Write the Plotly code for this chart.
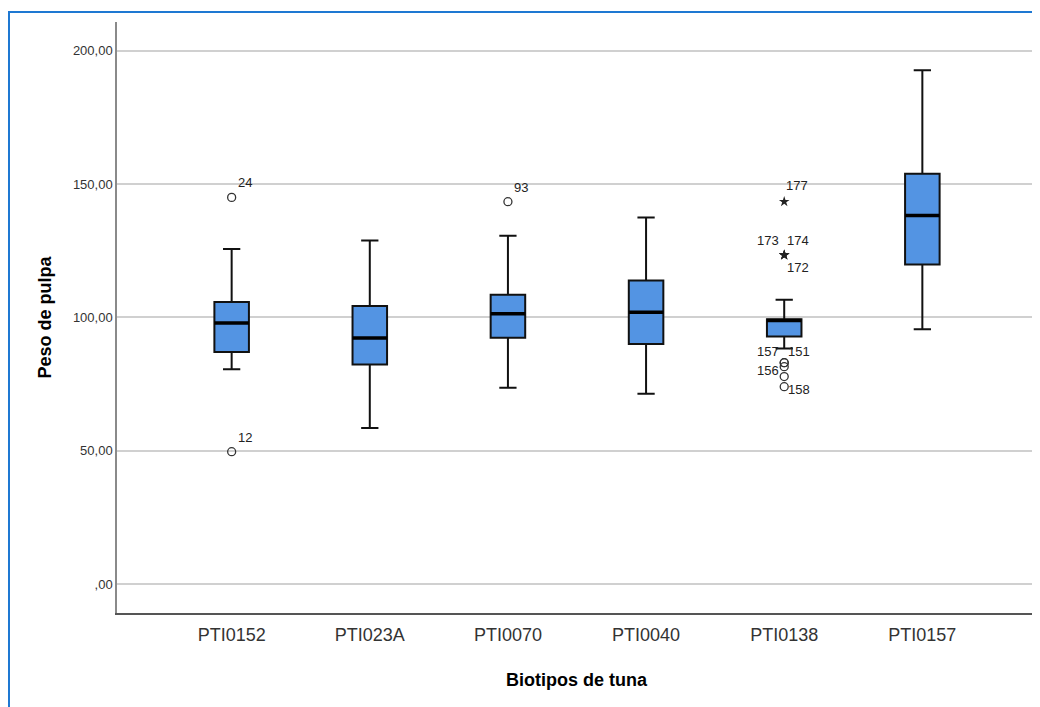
import plotly.graph_objects as go

# ---- data ----
categories = ["PTI0152", "PTI023A", "PTI0070", "PTI0040", "PTI0138", "PTI0157"]
q1 = [87.0, 82.3, 92.4, 90.0, 92.8, 119.8]
median = [97.9, 92.3, 101.4, 101.9, 98.8, 138.2]
q3 = [105.8, 104.3, 108.5, 113.8, 99.3, 153.9]
lower_whisker = [80.5, 58.5, 73.6, 71.3, 88.3, 95.5]
upper_whisker = [125.6, 128.8, 130.6, 137.5, 106.6, 192.7]

# outliers (circles)
outlier_cat = ["PTI0152", "PTI0152", "PTI0070", "PTI0138", "PTI0138", "PTI0138", "PTI0138", "PTI0138"]
outlier_val = [145.0, 49.6, 143.4, 83.0, 83.0, 81.5, 77.8, 74.0]
outlier_case = ["24", "12", "93", "157", "151", "156", "", "158"]

# extreme values (stars)
extreme_cat = ["PTI0138", "PTI0138", "PTI0138", "PTI0138"]
extreme_val = [143.4, 123.4, 123.4, 123.4]
extreme_case = ["177", "173", "174", "172"]

y_tickvals = [0, 50, 100, 150, 200]
y_ticktext = [",00", "50,00", "100,00", "150,00", "200,00"]

# label offsets in pixels (style only)
label_offsets = {
    "24": (13, 15), "12": (13, 14), "93": (13, 14),
    "157": (-16, 11), "151": (15, 11), "156": (-16, -4), "158": (15, -3),
    "177": (13, 16), "173": (-16, 14), "174": (14, 14), "172": (14, -13),
}

FONT = "Arial, Liberation Sans, sans-serif"
idx = {c: i for i, c in enumerate(categories)}
BOXW = 0.25

fig = go.Figure()

fig.add_trace(go.Box(
    x=list(range(len(categories))),
    q1=q1, median=median, q3=q3,
    lowerfence=lower_whisker, upperfence=upper_whisker,
    width=BOXW, whiskerwidth=0.5,
    fillcolor="#5394e3",
    line=dict(color="#111111", width=2),
    boxpoints=False, showlegend=False, hoverinfo="skip",
))

# thick median lines
mx, my = [], []
for i, m in enumerate(median):
    mx += [i - BOXW / 2, i + BOXW / 2, None]
    my += [m, m, None]
fig.add_trace(go.Scatter(x=mx, y=my, mode="lines",
                         line=dict(color="black", width=3.5),
                         showlegend=False, hoverinfo="skip"))

fig.add_trace(go.Scatter(
    x=[idx[c] for c in outlier_cat], y=outlier_val, mode="markers",
    marker=dict(symbol="circle-open", size=8, color="#333333", line=dict(width=1.3)),
    showlegend=False, hoverinfo="skip"))

fig.add_trace(go.Scatter(
    x=[idx[c] for c in extreme_cat], y=extreme_val, mode="markers",
    marker=dict(symbol="star", size=8, color="#222222", line=dict(width=0)),
    showlegend=False, hoverinfo="skip"))

annotations = []
for c, v, t in list(zip(outlier_cat, outlier_val, outlier_case)) + list(zip(extreme_cat, extreme_val, extreme_case)):
    if not t:
        continue
    dx, dy = label_offsets.get(t, (12, 12))
    annotations.append(dict(x=idx[c], y=v, text=t, showarrow=False,
                            xshift=dx, yshift=dy,
                            font=dict(family=FONT, size=13, color="#222222")))

annotations.append(dict(text="<b>Biotipos de tuna</b>", xref="paper", yref="paper",
                        x=0.5, y=-0.1134, showarrow=False, yanchor="middle",
                        font=dict(family=FONT, size=18, color="black")))
annotations.append(dict(text="<b>Peso de pulpa</b>", xref="paper", yref="paper",
                        x=-0.0793, y=0.5, showarrow=False, textangle=-90,
                        xanchor="center", yanchor="middle",
                        font=dict(family=FONT, size=18, color="black")))

fig.update_layout(
    width=1032, height=699,
    margin=dict(l=109, r=3, t=14, b=94),
    paper_bgcolor="white", plot_bgcolor="white",
    annotations=annotations,
    shapes=[dict(type="path", xref="paper", yref="paper",
                 path="M -0.1174,-0.3 L -0.1174,1.0169 L 1.05,1.0169",
                 line=dict(color="#1e78d2", width=2))],
    xaxis=dict(range=[-0.83, 5.83], tickvals=list(range(len(categories))),
               ticktext=categories, showgrid=False, zeroline=False,
               showline=True, linecolor="#555555", linewidth=1.5,
               ticks="", ticklabelstandoff=5,
               tickfont=dict(family=FONT, size=18, color="#333333")),
    yaxis=dict(range=[-10.9, 210.8], tickvals=y_tickvals, ticktext=y_ticktext,
               showgrid=True, gridcolor="#d0d0d0", gridwidth=1.5, zeroline=False,
               showline=True, linecolor="#8a8a8a", linewidth=1.5, ticks="",
               tickfont=dict(family=FONT, size=13, color="#333333")),
)

fig.write_html("out.html")
